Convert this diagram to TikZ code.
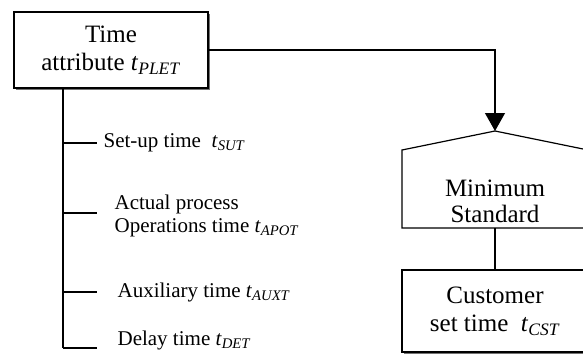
\documentclass[tikz,border=0pt]{standalone}
\usepackage{fontspec}
\setmainfont{Liberation Serif}
\usetikzlibrary{shadows}
\usetikzlibrary{arrows.meta}
\newcommand{\tsym}[1]{\textit{t}\textsubscript{\textit{#1}}}

\begin{document}
\begin{tikzpicture}[x=1pt,y=-1pt,line width=1.2pt,
  attrbox/.style={draw,fill=white,drop shadow={shadow xshift=2pt,shadow yshift=-2pt,fill=black!55,opacity=1},align=center,inner sep=0pt,font=\fontsize{25}{28}\selectfont},
  item/.style={anchor=west,inner sep=0pt,align=left,font=\fontsize{21}{23}\selectfont}]
\useasboundingbox (0,0) rectangle (583,356);
\node[attrbox,minimum width=194pt,minimum height=76pt] (plet) at (111,50) {Time\\attribute \tsym{PLET}};
\draw[fill=white] (402,228) -- (402,150) -- (495,131) -- (588,150) -- (588,228) -- cycle;
\coordinate (apex) at (495,131);
\coordinate (pbot) at (495,228);
\node[align=center,font=\fontsize{25}{26}\selectfont] (minstd) at (495,201) {Minimum\\Standard};
\node[attrbox,minimum width=186pt,minimum height=82pt] (cst) at (495,311) {Customer\\set time~~\tsym{CST}};
\draw[-{Triangle[width=20pt,length=18pt]}] (plet.east) -| (apex);
\draw (pbot) -- (cst.north);
\coordinate (trunk) at (63,348);
\draw (plet.south -| trunk) -- (trunk);
\foreach \y/\n in {143/sut,213/apot,292/auxt,348/det}
  {\coordinate (b\n) at (63,\y);
   \draw (b\n) -- ++(34,0);}
\node[item] (sut) at (103,143) {Set-up time~~\tsym{SUT}};
\node[item] (apot) at (114,216) {Actual process\\Operations time \tsym{APOT}};
\node[item] (auxt) at (117,292) {Auxiliary time \tsym{AUXT}};
\node[item] (det) at (117,340) {Delay time \tsym{DET}};
\end{tikzpicture}
\end{document}
